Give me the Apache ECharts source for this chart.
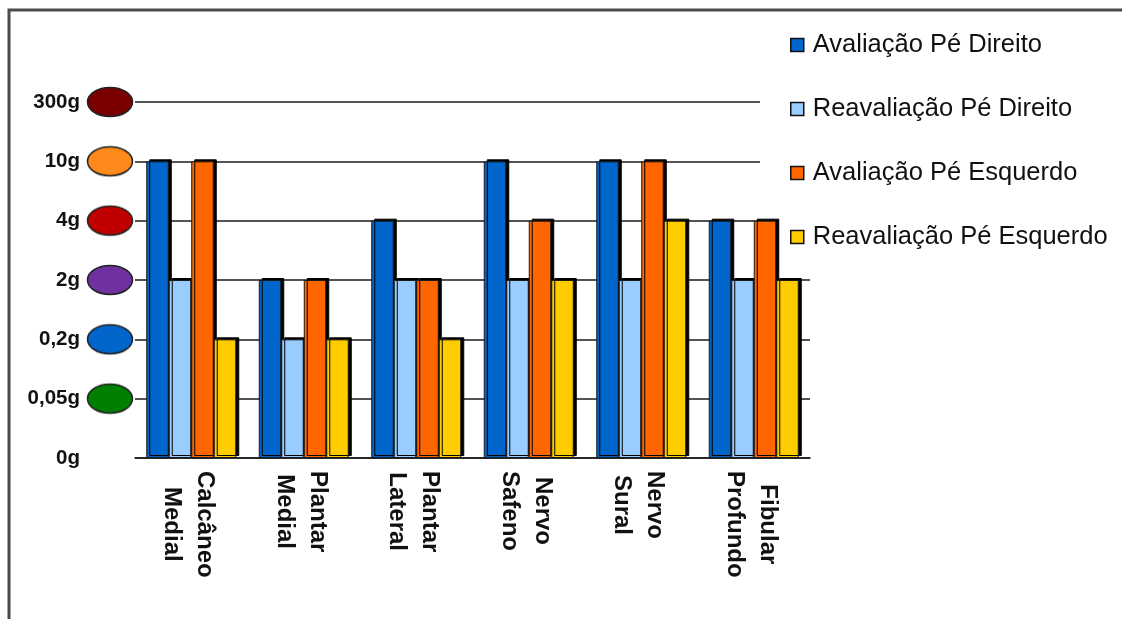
<!DOCTYPE html>
<html><head><meta charset="utf-8">
<script src="https://cdn.jsdelivr.net/npm/echarts@6/dist/echarts.min.js"></script>
<style>html,body{margin:0;padding:0;background:#fff}#c{width:1122px;height:619px}</style>
</head><body><div id="c"></div>
<script>
const categories = ['Calcâneo\nMedial', 'Plantar\nMedial', 'Plantar\nLateral', 'Nervo\nSafeno', 'Nervo\nSural', 'Fibular\nProfundo'];
const yTickLabels = ['0g', '0,05g', '0,2g', '2g', '4g', '10g', '300g'];
const tickColors = [null, '#008000', '#0066CC', '#7030A0', '#C00000', '#FF8A1C', '#7A0000'];
const seriesNames = ['Avaliação Pé Direito', 'Reavaliação Pé Direito', 'Avaliação Pé Esquerdo', 'Reavaliação Pé Esquerdo'];
const seriesColors = ['#0066CC', '#99CCFF', '#FF6600', '#FFCC00'];
const avaliacaoDireito = ['10g', '2g', '4g', '10g', '10g', '4g'];
const reavaliacaoDireito = ['2g', '0,2g', '2g', '2g', '2g', '2g'];
const avaliacaoEsquerdo = ['10g', '2g', '2g', '4g', '10g', '4g'];
const reavaliacaoEsquerdo = ['0,2g', '0,2g', '0,2g', '2g', '4g', '2g'];
const seriesValues = [avaliacaoDireito, reavaliacaoDireito, avaliacaoEsquerdo, reavaliacaoEsquerdo];

const FONT = "'Liberation Sans', Arial, sans-serif";

function ellipseImg(color) {
  const c = document.createElement('canvas');
  c.width = 48; c.height = 32;
  const g = c.getContext('2d');
  g.beginPath();
  g.ellipse(24, 16, 22.5, 14.5, 0, 0, Math.PI * 2);
  g.fillStyle = color; g.fill();
  g.lineWidth = 1.5; g.strokeStyle = '#222'; g.stroke();
  return c;
}

const yRich = {
  t: { fontFamily: FONT, fontSize: 20.5, fontWeight: 'bold', color: '#111', padding: [0, 6, 0, 0] },
  blank: { width: 48, height: 32 }
};
for (let i = 1; i < yTickLabels.length; i++) {
  yRich['e' + i] = { width: 48, height: 32, backgroundColor: { image: ellipseImg(tickColors[i]) } };
}

const chart = echarts.init(document.getElementById('c'), null, { renderer: 'canvas' });
chart.setOption({
  animation: false,
  backgroundColor: '#fff',
  grid: { left: 135, right: 312, top: 102, bottom: 161 },
  legend: {
    orient: 'vertical', left: 760, top: 14, z: 1,
    padding: [16, 10, 16, 30],
    backgroundColor: '#fff',
    itemWidth: 13, itemHeight: 13, itemGap: 34,
    icon: 'rect',
    itemStyle: { borderColor: '#111', borderWidth: 1.5, shadowColor: 'transparent', shadowOffsetX: 0, shadowOffsetY: 0 },
    textStyle: { fontFamily: FONT, fontSize: 25.5, color: '#111', lineHeight: 30, padding: [0, 0, 0, 4] },
    data: seriesNames
  },
  xAxis: {
    type: 'category', data: categories,
    axisLine: { lineStyle: { color: '#1a1a1a', width: 1.5 } },
    axisTick: { length: 6, lineStyle: { color: '#1a1a1a', width: 1.5 } },
    axisLabel: {
      interval: 0, rotate: -90, margin: 13,
      padding: [6, 0, 0, 0],
      formatter: v => v.split('\n').map(s => '{c|' + s + '}').join('\n'),
      rich: { c: { align: 'center', fontFamily: FONT, fontSize: 24, fontWeight: 'bold', color: '#111', lineHeight: 33 } }
    },
    splitLine: { show: false }
  },
  yAxis: {
    type: 'value', min: 0, max: yTickLabels.length - 1, interval: 1,
    axisLine: { show: false }, axisTick: { show: false },
    splitLine: { lineStyle: { color: '#1a1a1a', width: 1.5 } },
    axisLabel: {
      margin: 1,
      formatter: v => '{t|' + yTickLabels[v] + '}' + (v === 0 ? '{blank|}' : '{e' + v + '|}'),
      rich: yRich
    }
  },
  series: seriesNames.map((name, i) => ({
    name, type: 'bar', z: 2,
    barGap: '0%', barCategoryGap: '20%',
    itemStyle: {
      color: seriesColors[i], borderColor: '#1a1a1a', borderWidth: 1,
      shadowColor: '#000', shadowBlur: 0, shadowOffsetX: 3, shadowOffsetY: -2
    },
    data: seriesValues[i].map(l => yTickLabels.indexOf(l))
  })),
  graphic: [{
    type: 'rect', z: 100, silent: true,
    shape: { x: 9, y: 10, width: 1300, height: 800 },
    style: { fill: 'none', stroke: '#4a4a4a', lineWidth: 3 }
  }]
});
</script></body></html>
